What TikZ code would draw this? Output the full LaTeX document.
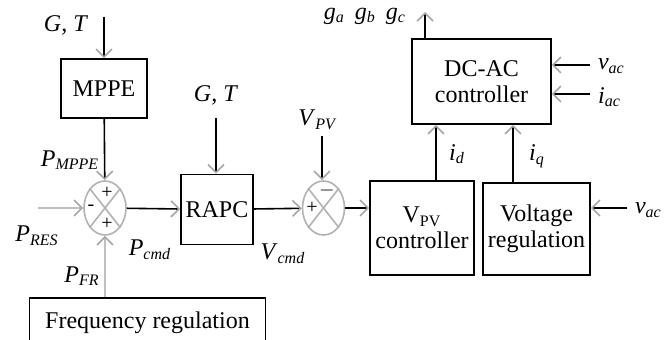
\documentclass[tikz,border=0pt]{standalone}
\usepackage{fontspec}
\setmainfont{Liberation Serif}
\usetikzlibrary{arrows.meta,shapes.geometric}
\tikzstyle{block} = [draw, thick, align=center, inner sep=1pt]
\tikzstyle{sumnode} = [draw=gray!60, thick, ellipse, minimum width=21pt, minimum height=27pt, inner sep=0pt]
\tikzstyle{arrow} = [thick, -{Straight Barb[color=gray!70,length=4pt,width=8pt]}]
\tikzstyle{greyarrow} = [arrow, draw=gray!50]
\tikzstyle{sign} = [inner sep=0pt, font=\fontsize{10}{10}\selectfont]
\newcommand{\sym}[2]{\textit{#1}\textsubscript{\textit{#2}}}

\begin{document}
\begin{tikzpicture}[x=0.5pt,y=-0.5pt,every node/.style={font=\fontsize{12}{13}\selectfont}]
    \useasboundingbox (0,0) rectangle (672,340);
    % blocks
    \node[block, minimum width=43pt, minimum height=29.5pt] (mppe) at (104,88.5) {MPPE};
    \node[block, minimum width=36pt, minimum height=35pt] (rapc) at (217,209.5) {RAPC};
    \node[block, minimum width=52pt, minimum height=47pt] (vpvc) at (422,228) {V\textsubscript{PV}\\controller};
    \node[block, minimum width=53.5pt, minimum height=46pt] (volt) at (536.5,229) {Voltage\\regulation};
    \node[block, minimum width=69.5pt, minimum height=42.5pt] (dcac) at (481.5,81.5) {DC-AC\\controller};
    \node[block, minimum width=118pt, minimum height=25pt, anchor=north] (freq) at (147.5,297) {Frequency regulation};
    % summing junctions
    \node[sumnode] (sum1) at (105,208) {};
    \node[sumnode] (sum2) at (323.5,208) {};
    \foreach \s in {sum1,sum2}{
        \draw[gray!60, thick] (\s.north east) -- (\s.south west);
        \draw[gray!60, thick] (\s.north west) -- (\s.south east);
    }
    \node[sign] (s1a) at (107,193) {+};
    \node[sign] (s1b) at (91,208) {-};
    \node[sign] (s1c) at (107,224) {+};
    \node[sign] (s2a) at (327,191) {$-$};
    \node[sign] (s2b) at (312,208) {+};
    % free ends
    \coordinate (gtin1) at (104,17);
    \coordinate (gtin2) at (216,118);
    \coordinate (vpvin) at (322,136);
    \coordinate (presin) at (38,208);
    \coordinate (gout) at (425,12);
    \coordinate (vacin1) at (590,65);
    \coordinate (iacin) at (590,94);
    \coordinate (vacin2) at (627,208);
    % connectors
    \draw[arrow] (gtin1) -- (mppe);
    \draw[arrow] (mppe) -- (sum1);
    \draw[greyarrow] (presin) -- (sum1);
    \draw[greyarrow] (freq.north -| sum1) -- (sum1);
    \draw[arrow] (sum1) -- (rapc);
    \draw[arrow] (gtin2) -- (gtin2 |- rapc.north);
    \draw[arrow] (rapc) -- (sum2);
    \draw[arrow] (vpvin) -- (vpvin |- sum2.north);
    \draw[arrow] (sum2) -- (sum2 -| vpvc.west);
    \draw[arrow] (vacin2) -- (vacin2 -| volt.east);
    \draw[arrow] (vpvc.north -| 436,0) -- (dcac.south -| 436,0);
    \draw[arrow] (volt.north -| 513,0) -- (dcac.south -| 513,0);
    \draw[arrow] (vacin1) -- (vacin1 -| dcac.east);
    \draw[arrow] (iacin) -- (iacin -| dcac.east);
    \draw[arrow] (gout |- dcac.north) -- (gout);
    % labels
    \node (lgt1) at (66,25) {\textit{G, T}};
    \node (lgt2) at (216,95) {\textit{G, T}};
    \node (lvpv) at (318,120) {\sym{V}{PV}};
    \node (lpmppe) at (70,160) {\sym{P}{MPPE}};
    \node (lpres) at (37,236) {\sym{P}{RES}};
    \node (lpfr) at (82,276) {\sym{P}{FR}};
    \node (lpcmd) at (150,250) {\sym{P}{cmd}};
    \node (lvcmd) at (283,254) {\sym{V}{cmd}};
    \node (lid) at (457,154) {\sym{i}{d}};
    \node (liq) at (537,156) {\sym{i}{q}};
    \node[anchor=west] (lvac1) at (591,66) {\sym{v}{ac}};
    \node[anchor=west] (liac) at (591,97) {\sym{i}{ac}};
    \node[anchor=west] (lvac2) at (628,210) {\sym{v}{ac}};
    \node[anchor=east] (lg) at (413,16) {\sym{g}{a}\, \sym{g}{b}\, \sym{g}{c}};
\end{tikzpicture}
\end{document}
